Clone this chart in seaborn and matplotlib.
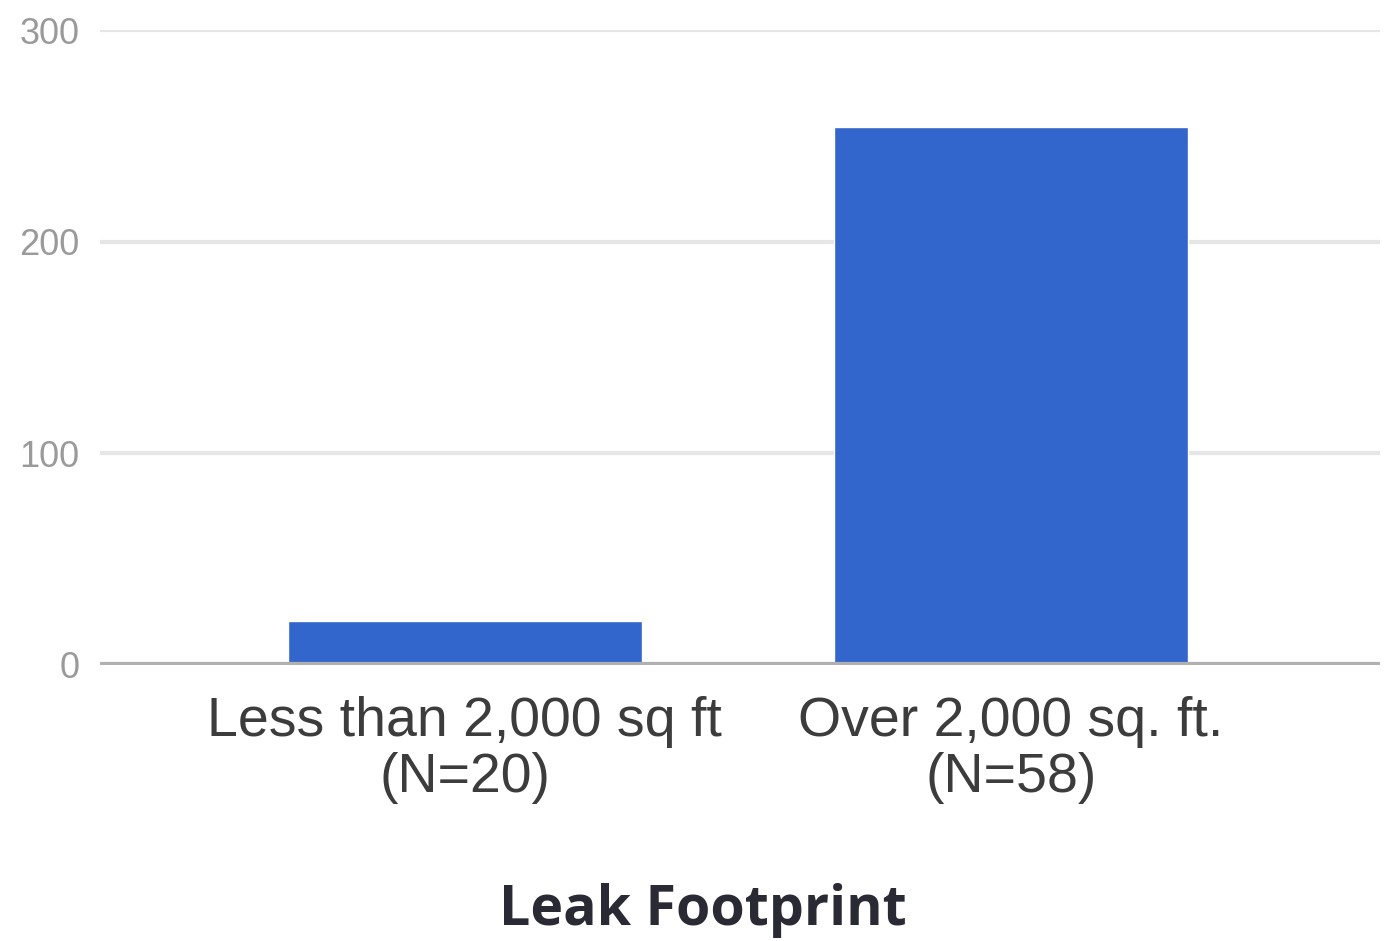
import matplotlib
matplotlib.use("Agg")
import matplotlib.pyplot as plt
import seaborn as sns
import pandas as pd

# Leak counts by building footprint
categories = ["Less than 2,000 sq ft\n(N=20)", "Over 2,000 sq. ft.\n(N=58)"]
leaks = [21, 254]
y_ticks = [0, 100, 200, 300]
title = "Leak Footprint"

df = pd.DataFrame({"footprint": categories, "leaks": leaks})

sns.set_theme(style="white")
plt.rcParams["font.family"] = ["Liberation Sans", "DejaVu Sans"]

fig = plt.figure(figsize=(13.87, 9.41), dpi=100)
ax = fig.add_axes([100 / 1387, 1 - 665 / 941, 1280 / 1387, 635 / 941])

sns.barplot(data=df, x="footprint", y="leaks", color="#3366CC",
            saturation=1, width=0.648, ax=ax, zorder=3)

ax.set_ylim(0, 300)
ax.set_xlim(-0.668, 1.676)
ax.set_yticks(y_ticks)
ax.set_yticklabels([str(t) for t in y_ticks])
ax.yaxis.grid(True, color="#e6e6e6", linewidth=3, zorder=0)
ax.axhline(0, color="#b0b0b0", linewidth=4.5, zorder=4)

for s in ax.spines.values():
    s.set_visible(False)

ax.tick_params(axis="y", length=0, pad=15, labelsize=26, labelcolor="#9a9a9a")
ax.tick_params(axis="x", length=0, pad=22, labelsize=40, labelcolor="#3c3c3c")
for lbl in ax.get_xticklabels():
    lbl.set_linespacing(1.1)

ax.set_xlabel("")
ax.set_ylabel("")

fig.text(703 / 1387, 1 - 910 / 941, title, ha="center", va="center",
         fontsize=40, fontweight="bold", color="#2a2a35",
         family=["Open Sans", "DejaVu Sans"])

fig.savefig("out.png", dpi=100, facecolor="white")
